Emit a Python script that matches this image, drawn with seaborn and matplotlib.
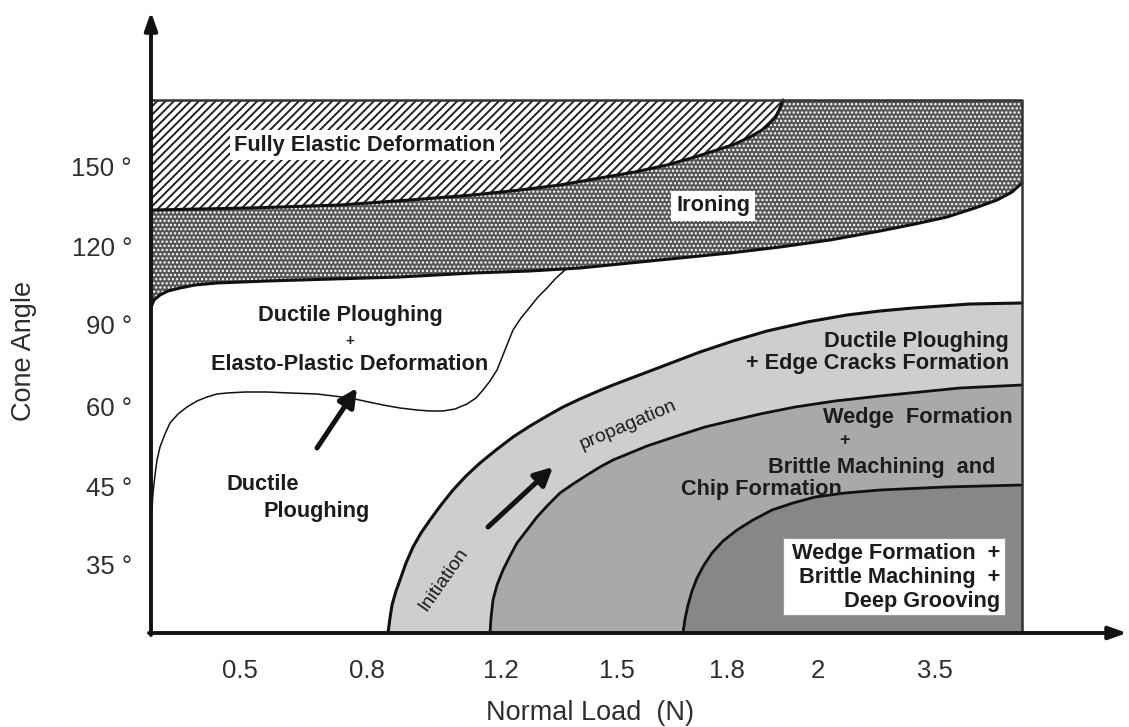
import matplotlib
matplotlib.use("Agg")
import matplotlib.pyplot as plt
from matplotlib.patches import Rectangle
import seaborn as sns
import numpy as np
import pandas as pd

# ---------------- data (diagram units: load position / angle position) -------------
load_ticks = [0.90, 2.17, 3.51, 4.67, 5.77, 6.68, 7.85]
load_labels = ["0.5", "0.8", "1.2", "1.5", "1.8", "2", "3.5"]
angle_ticks = [4.67, 3.86, 3.08, 2.26, 1.46, 0.69]
angle_labels = ["150", "120", "90", "60", "45", "35"]

x_max, y_max = 8.72, 5.33   # map frame

# fully elastic / ironing boundary
elastic_x = [0.02, 1.00, 1.90, 2.60, 3.23, 3.70, 4.10, 4.50, 4.85, 5.17, 5.45, 5.67,
             5.85, 6.00, 6.12, 6.20, 6.26, 6.30, 6.33]
elastic_y = [4.23, 4.25, 4.28, 4.33, 4.38, 4.43, 4.48, 4.55, 4.61, 4.68, 4.76, 4.83,
             4.89, 4.96, 5.03, 5.10, 5.17, 5.25, 5.33]
# ironing / ductile ploughing boundary
ironing_x = [0.02, 0.04, 0.10, 0.18, 0.30, 0.45, 0.67, 1.17, 1.83, 2.50, 3.23, 3.80,
             4.30, 4.80, 5.30, 5.80, 6.30, 6.80, 7.30, 7.65, 7.97, 8.25, 8.47, 8.62, 8.72]
ironing_y = [3.28, 3.33, 3.38, 3.42, 3.45, 3.48, 3.50, 3.52, 3.54, 3.56, 3.60, 3.62,
             3.65, 3.70, 3.75, 3.80, 3.86, 3.93, 4.02, 4.09, 4.16, 4.25, 4.33, 4.41, 4.50]
# ductile ploughing / elasto-plastic (thin line)
thin_x = [0.02, 0.03, 0.05, 0.07, 0.10, 0.15, 0.20, 0.28, 0.37, 0.47, 0.57, 0.67, 0.77,
          0.95, 1.17, 1.40, 1.67, 2.00, 2.33, 2.50, 2.67, 2.80, 2.93, 3.05, 3.17, 3.26,
          3.33, 3.40, 3.47, 3.55, 3.63, 3.71, 3.80, 3.88, 3.97, 4.06, 4.15]
thin_y = [1.23, 1.40, 1.58, 1.73, 1.86, 1.99, 2.10, 2.19, 2.26, 2.32, 2.36, 2.39, 2.40,
          2.41, 2.41, 2.40, 2.39, 2.35, 2.28, 2.25, 2.23, 2.22, 2.22, 2.24, 2.29, 2.35,
          2.43, 2.52, 2.63, 2.83, 3.03, 3.15, 3.26, 3.36, 3.45, 3.55, 3.63]
# edge cracks band (outer arc)
outer_x = [2.38, 2.40, 2.42, 2.46, 2.50, 2.56, 2.63, 2.71, 2.80, 2.91, 3.03, 3.16, 3.30,
           3.46, 3.63, 3.80, 3.97, 4.13, 4.30, 4.46, 4.63, 5.00, 5.50, 5.83, 6.17, 6.57,
           6.97, 7.30, 7.63, 8.20, 8.72]
outer_y = [0.00, 0.15, 0.28, 0.42, 0.53, 0.70, 0.86, 1.00, 1.13, 1.28, 1.43, 1.57, 1.70,
           1.83, 1.96, 2.07, 2.17, 2.26, 2.34, 2.41, 2.48, 2.62, 2.81, 2.92, 3.02, 3.11,
           3.18, 3.22, 3.25, 3.29, 3.30]
# wedge formation band (middle arc)
middle_x = [3.40, 3.41, 3.43, 3.47, 3.53, 3.60, 3.67, 3.77, 3.87, 3.98, 4.10, 4.23, 4.37,
            4.50, 4.63, 4.80, 4.97, 5.30, 5.55, 5.80, 6.10, 6.45, 6.85, 7.30, 7.70, 8.10, 8.72]
middle_y = [0.00, 0.15, 0.33, 0.48, 0.63, 0.77, 0.90, 1.03, 1.16, 1.28, 1.40, 1.49, 1.58,
            1.66, 1.73, 1.80, 1.87, 1.98, 2.06, 2.12, 2.19, 2.26, 2.32, 2.37, 2.41, 2.45, 2.48]
# deep grooving (inner arc)
inner_x = [5.33, 5.35, 5.38, 5.42, 5.47, 5.54, 5.62, 5.73, 5.87, 6.03, 6.22, 6.43, 6.65,
           6.95, 7.30, 7.95, 8.72]
inner_y = [0.00, 0.14, 0.28, 0.42, 0.55, 0.68, 0.80, 0.92, 1.03, 1.13, 1.23, 1.30, 1.36,
           1.40, 1.43, 1.46, 1.48]

# ---------------- style -------------
sns.set_theme(style="white")
plt.rcParams["font.family"] = ["Liberation Sans", "DejaVu Sans"]

TXT = "#1c1c1c"
LBL = "#2e2e2e"

fig = plt.figure(figsize=(11.29, 7.27), dpi=100)
ax = fig.add_axes([150 / 1129, 94 / 727, 979 / 1129, 633 / 727])
ax.set_xlim(0, 9.79)
ax.set_ylim(0, 6.33)
for s in ax.spines.values():
    s.set_visible(False)
ax.set_facecolor("white")

# ---------------- regions -------------
plt.rcParams["hatch.linewidth"] = 1.1
iron = ax.fill_between(ironing_x, ironing_y, y_max, facecolor="#565656",
                       edgecolor="white", linewidth=0, hatch="....", zorder=1)
if hasattr(iron, "set_hatch_linewidth"):
    iron.set_hatch_linewidth(1.1)
plt.rcParams["hatch.linewidth"] = 1.4
ela = ax.fill_between(elastic_x, elastic_y, y_max, facecolor="white",
                      edgecolor="#222222", linewidth=0, hatch="////", zorder=2)
if hasattr(ela, "set_hatch_linewidth"):
    ela.set_hatch_linewidth(1.4)

ax.fill_between(outer_x, 0, outer_y, color="#cecece", linewidth=0, zorder=1)
ax.fill_between(middle_x, 0, middle_y, color="#a9a9a9", linewidth=0, zorder=1.1)
ax.fill_between(inner_x, 0, inner_y, color="#878787", linewidth=0, zorder=1.2)

# ---------------- boundaries -------------
for bx, by, lw in [(elastic_x, elastic_y, 2.2), (ironing_x, ironing_y, 2.2),
                   (outer_x, outer_y, 2.2), (middle_x, middle_y, 2.0),
                   (inner_x, inner_y, 2.0), (thin_x, thin_y, 1.1)]:
    sns.lineplot(x=bx, y=by, sort=False, estimator=None, color="#111111",
                 linewidth=lw, ax=ax, zorder=4, legend=False)

# frame of the map
ax.plot([0.01, x_max, x_max], [y_max, y_max, 0], color="#333333", lw=1.8, zorder=4)

# axes arrows
arrow_kw = dict(arrowstyle="-|>,head_length=0.9,head_width=0.32", lw=2.8,
                color="#111111", shrinkA=0, shrinkB=0)
ax.annotate("", xy=(0.01, 6.21), xytext=(0.01, -0.02), arrowprops=arrow_kw,
            annotation_clip=False, zorder=6)
ax.annotate("", xy=(9.77, 0.0), xytext=(-0.01, 0.0), arrowprops=arrow_kw,
            annotation_clip=False, zorder=6)

# ---------------- ticks & labels -------------
ax.set_xticks(load_ticks)
ax.set_xticklabels(load_labels)
ax.set_yticks(angle_ticks)
ax.set_yticklabels([f"{a} °" for a in angle_labels])
ax.tick_params(axis="x", length=0, pad=19.0, labelsize=18.5, labelcolor=LBL)
ax.tick_params(axis="y", length=0, pad=13, labelsize=18.5, labelcolor=LBL)
ax.set_xlabel("Normal Load  (N)", fontsize=19.5, color=LBL)
ax.xaxis.set_label_coords(0.4494, -0.1058)
ax.set_ylabel("Cone Angle", fontsize=19.5, color=LBL)
ax.yaxis.set_label_coords(-0.1154, 0.4455)

# ---------------- annotations -------------
bold = dict(fontsize=15.7, fontweight="bold", color=TXT, zorder=7)
wbox = dict(boxstyle="square,pad=0.22", facecolor="white", edgecolor="none")

ax.text(2.15, 4.88, "Fully Elastic Deformation", ha="center", va="center", bbox=wbox, **bold)
ax.text(5.63, 4.27, "Ironing", ha="center", va="center", bbox=wbox, **bold)

ax.text(2.00, 3.18, "Ductile Ploughing", ha="center", va="center", **bold)
ax.text(2.00, 2.92, "+", ha="center", va="center", fontsize=11, fontweight="bold", color=TXT)
ax.text(2.00, 2.69, "Elasto-Plastic Deformation", ha="center", va="center", **bold)

ax.text(1.13, 1.48, "Ductile", ha="center", va="center", **bold)
ax.text(1.67, 1.22, "Ploughing", ha="center", va="center", **bold)

ax.text(8.59, 2.91, "Ductile Ploughing", ha="right", va="center", **bold)
ax.text(8.59, 2.69, "+ Edge Cracks Formation", ha="right", va="center", **bold)

ax.text(8.63, 2.16, "Wedge  Formation", ha="right", va="center", **bold)
ax.text(6.95, 1.92, "+", ha="center", va="center", fontsize=13, fontweight="bold", color=TXT)
ax.text(8.45, 1.66, "Brittle Machining  and", ha="right", va="center", **bold)
ax.text(5.31, 1.43, "Chip Formation", ha="left", va="center", **bold)

ax.add_patch(Rectangle((6.33, 0.18), 2.22, 0.77, facecolor="white",
                       edgecolor="#9a9a9a", lw=0.8, zorder=6))
ax.text(8.50, 0.80, "Wedge Formation  +", ha="right", va="center", **bold)
ax.text(8.50, 0.56, "Brittle Machining  +", ha="right", va="center", **bold)
ax.text(8.50, 0.31, "Deep Grooving", ha="right", va="center", **bold)

ax.text(2.93, 0.53, "Initiation", rotation=55, rotation_mode="anchor",
        ha="center", va="center", fontsize=14, color=TXT, zorder=7)
ax.text(4.78, 2.08, "propagation", rotation=23, rotation_mode="anchor",
        ha="center", va="center", fontsize=14, color=TXT, zorder=7)

in_arrow = dict(arrowstyle="-|>,head_length=0.9,head_width=0.45", lw=3.6,
                color="#111111", shrinkA=0, shrinkB=0, mutation_scale=12)
ax.annotate("", xy=(2.07, 2.45), xytext=(1.67, 1.85), arrowprops=in_arrow, zorder=7)
ax.annotate("", xy=(4.03, 1.66), xytext=(3.38, 1.06), arrowprops=in_arrow, zorder=7)

fig.savefig("out.png", dpi=100)
